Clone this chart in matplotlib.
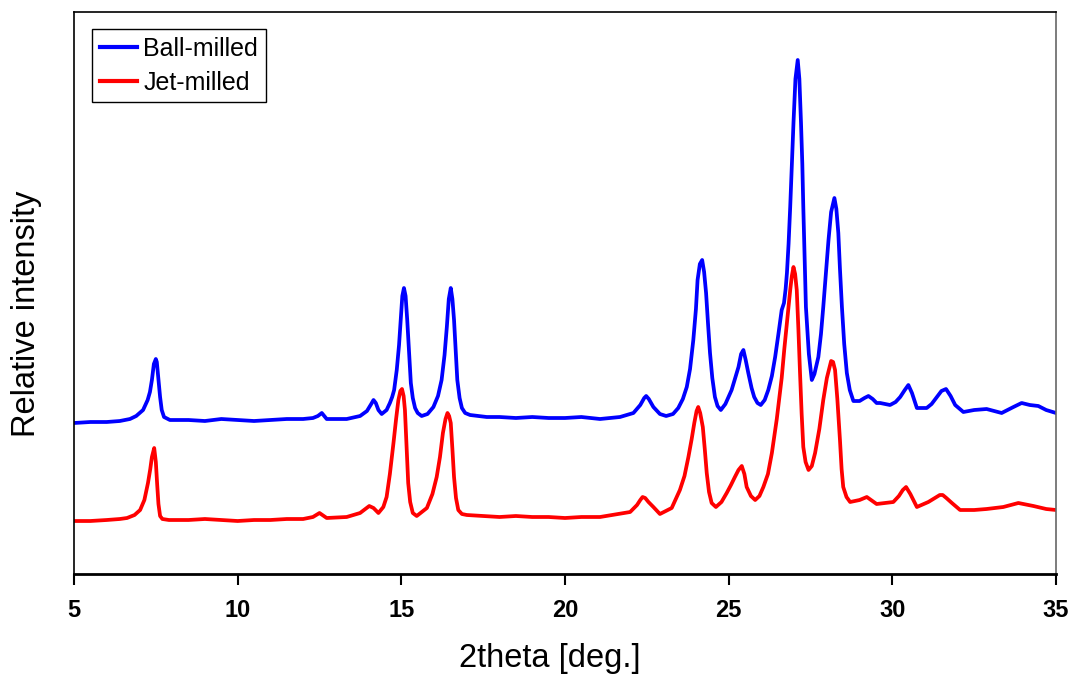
import matplotlib.pyplot as plt

# XRD patterns, intensity in arbitrary units (offset traces)
two_theta_ball = [5.0, 5.5, 6.0, 6.4, 6.71, 6.9, 7.11, 7.25, 7.32, 7.38, 7.44, 7.5, 7.53, 7.58, 7.63,
                  7.68, 7.75, 7.93, 8.5, 9.0, 9.5, 10.0, 10.5, 11.0, 11.5, 12.0, 12.3, 12.45, 12.57,
                  12.72, 13.0, 13.33, 13.74, 13.95, 14.08, 14.15, 14.22, 14.3, 14.4, 14.55, 14.65,
                  14.72, 14.78, 14.86, 14.93, 14.98, 15.03, 15.08, 15.13, 15.18, 15.24, 15.29, 15.35,
                  15.42, 15.5, 15.62, 15.8, 15.98, 16.12, 16.23, 16.32, 16.39, 16.45, 16.51, 16.56,
                  16.61, 16.66, 16.71, 16.78, 16.85, 16.95, 17.1, 17.61, 18.0, 18.5, 19.0, 19.5, 20.0,
                  20.5, 21.07, 21.68, 22.09, 22.3, 22.42, 22.48, 22.56, 22.7, 22.9, 23.09, 23.3, 23.46,
                  23.6, 23.72, 23.82, 23.92, 24.0, 24.05, 24.12, 24.19, 24.25, 24.31, 24.37, 24.43,
                  24.5, 24.58, 24.66, 24.76, 24.9, 25.09, 25.2, 25.3, 25.38, 25.45, 25.52, 25.6, 25.7,
                  25.78, 25.88, 25.98, 26.1, 26.21, 26.32, 26.42, 26.52, 26.62, 26.69, 26.74, 26.78,
                  26.83, 26.88, 26.93, 26.98, 27.04, 27.11, 27.16, 27.21, 27.25, 27.28, 27.32, 27.36,
                  27.45, 27.54, 27.62, 27.74, 27.82, 27.89, 27.97, 28.05, 28.13, 28.23, 28.29, 28.35,
                  28.4, 28.46, 28.53, 28.61, 28.7, 28.81, 29.0, 29.15, 29.27, 29.4, 29.52, 29.63,
                  29.93, 30.1, 30.24, 30.38, 30.49, 30.6, 30.75, 31.05, 31.2, 31.36, 31.5, 31.64,
                  31.78, 31.92, 32.17, 32.5, 32.88, 33.34, 33.7, 33.95, 34.2, 34.46, 34.7, 35.0]
intensity_ball = [151, 152, 152, 153, 155, 158, 164, 174, 182, 194, 210, 215, 212, 194, 177,
                  164, 157, 154, 154, 153, 155, 154, 153, 154, 155, 155, 156, 158, 161,
                  155, 155, 155, 158, 163, 170, 174, 171, 164, 160, 164, 171,
                  177, 184, 204, 229, 254, 278, 286, 278, 254, 219, 191, 176,
                  166, 161, 158, 160, 167, 178, 194, 219, 247, 275, 286, 275,
                  254, 224, 194, 176, 166, 161, 159, 157, 157, 156, 157, 156, 156,
                  157, 155, 157, 161, 169, 176, 178, 175, 167, 160, 158, 160, 166,
                  175, 187, 205, 234, 265, 294, 310, 314, 302, 281, 250, 221,
                  196, 177, 168, 164, 170, 184, 196, 207, 220, 224, 214, 201, 186,
                  177, 171, 169, 174, 184, 198, 217, 240, 264, 271, 285, 301,
                  330, 367, 410, 451, 495, 514, 495, 451, 410, 367, 315, 267,
                  220, 194, 200, 217, 240, 267, 300, 334, 362, 376, 365, 341,
                  305, 267, 230, 201, 184, 173, 173, 176, 178, 175, 171, 171,
                  169, 172, 177, 184, 189, 181, 166, 166, 170, 177, 183, 185,
                  178, 169, 162, 164, 165, 161, 167, 171, 169, 168, 164, 161]

two_theta_jet = [5.0, 5.5, 6.0, 6.4, 6.62, 6.85, 7.02, 7.15, 7.26, 7.33, 7.38, 7.45, 7.5, 7.54,
                 7.58, 7.63, 7.7, 7.9, 8.5, 9.0, 9.5, 10.0, 10.5, 11.0, 11.5, 12.0, 12.3, 12.5,
                 12.72, 13.33, 13.74, 13.9, 14.02, 14.15, 14.3, 14.45, 14.55, 14.65, 14.76, 14.84,
                 14.91, 14.97, 15.02, 15.07, 15.11, 15.16, 15.21, 15.27, 15.35, 15.47, 15.78, 15.95,
                 16.08, 16.18, 16.27, 16.35, 16.41, 16.46, 16.51, 16.56, 16.61, 16.67, 16.74, 16.85,
                 17.0, 17.5, 18.0, 18.5, 19.0, 19.5, 20.0, 20.5, 21.07, 21.99, 22.2, 22.3, 22.37,
                 22.45, 22.55, 22.7, 22.9, 23.26, 23.51, 23.65, 23.77, 23.87, 23.95, 24.02, 24.07,
                 24.13, 24.21, 24.27, 24.33, 24.4, 24.48, 24.61, 24.78, 24.94, 25.07, 25.19, 25.3,
                 25.4, 25.48, 25.55, 25.68, 25.81, 25.94, 26.06, 26.2, 26.32, 26.47, 26.62, 26.7,
                 26.78, 26.88, 26.93, 26.98, 27.03, 27.08, 27.13, 27.18, 27.23, 27.28, 27.35, 27.44,
                 27.54, 27.64, 27.77, 27.89, 28.0, 28.13, 28.19, 28.25, 28.32, 28.4, 28.45, 28.5,
                 28.6, 28.71, 29.0, 29.22, 29.52, 30.03, 30.2, 30.32, 30.42, 30.55, 30.75, 31.1,
                 31.3, 31.45, 31.54, 31.65, 31.82, 32.07, 32.5, 32.88, 33.39, 33.85, 34.31, 34.7,
                 35.0]
intensity_jet = [53, 53, 54, 55, 56, 59, 64, 74, 91, 105, 117, 126, 112, 90,
                 70, 58, 55, 54, 54, 55, 54, 53, 54, 54, 55, 55, 57, 61,
                 56, 57, 61, 65, 68, 66, 61, 67, 77, 100, 131, 155,
                 174, 183, 185, 178, 164, 128, 91, 72, 61, 58, 66, 80,
                 97, 117, 141, 155, 161, 158, 151, 125, 97, 76, 64, 60,
                 59, 58, 57, 58, 57, 57, 56, 57, 57, 62, 69, 74, 77,
                 76, 72, 67, 60, 66, 84, 98, 117, 135, 151, 163, 167,
                 161, 147, 125, 101, 82, 71, 67, 72, 81, 89, 97, 104,
                 108, 100, 87, 78, 74, 78, 87, 100, 121, 155, 196, 225,
                 251, 284, 298, 307, 300, 284, 245, 201, 160, 127, 112, 104,
                 108, 121, 145, 174, 196, 213, 212, 204, 175, 134, 105, 87,
                 77, 72, 74, 77, 70, 72, 78, 84, 87, 80, 67, 72,
                 76, 79, 79, 76, 71, 64, 64, 65, 67, 71, 68, 65,
                 64]

x_ticks = [5, 10, 15, 20, 25, 30, 35]

plt.rcParams['font.family'] = ['Liberation Sans', 'DejaVu Sans']

W, H = 1072, 675
fig = plt.figure(figsize=(W / 100, H / 100), dpi=100)
ax = fig.add_axes([74 / W, 1 - 574 / H, (1056 - 74) / W, (574 - 12) / H])

ax.plot(two_theta_ball, intensity_ball, color='#0000ff', linewidth=2.7, label='Ball-milled')
ax.plot(two_theta_jet, intensity_jet, color='#ff0000', linewidth=2.7, label='Jet-milled')

ax.set_xlim(5, 35)
ax.set_ylim(0, 562)
ax.set_xticks(x_ticks)
ax.set_xticklabels([str(t) for t in x_ticks], fontsize=17, fontweight='bold')
ax.set_yticks([])
ax.tick_params(axis='x', direction='out', length=8, width=1.5, pad=10)

ax.spines['bottom'].set_linewidth(2.0)
ax.spines['left'].set_linewidth(1.2)
ax.spines['top'].set_linewidth(1.2)
ax.spines['right'].set_linewidth(1.2)
ax.spines['right'].set_color('#666666')

leg = ax.legend(loc='upper left', bbox_to_anchor=(92 / W, 1 - 29 / H),
                bbox_transform=fig.transFigure, borderaxespad=0, fontsize=18,
                fancybox=False, framealpha=1, edgecolor='black',
                handlelength=1.5, handletextpad=0.25, borderpad=0.3, labelspacing=0.4)
leg.get_frame().set_linewidth(1.0)
for line in leg.get_lines():
    line.set_linewidth(3)

fig.text(550 / W, 1 - 658 / H, '2theta [deg.]', fontsize=23.5, ha='center', va='center')
fig.text(27 / W, 1 - 314 / H, 'Relative intensity', fontsize=23.5, rotation=90,
         ha='center', va='center')

fig.savefig('out.png', dpi=100)
